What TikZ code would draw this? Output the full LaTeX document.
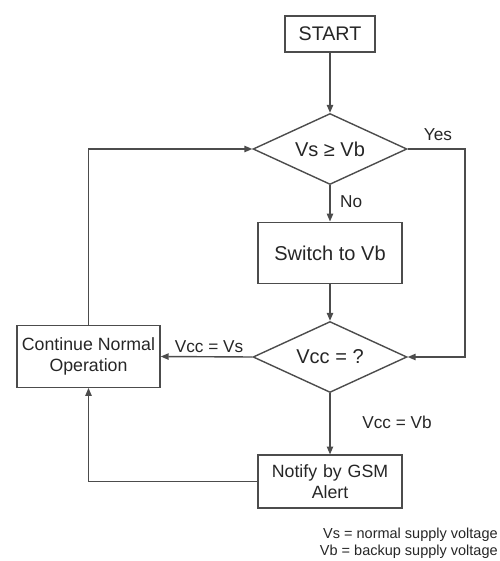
\documentclass[tikz,border=0pt]{standalone}
\usepackage{fontspec}
\setmainfont{Liberation Sans}
\usetikzlibrary{arrows.meta,shapes.geometric}
\tikzset{
	flowbox/.style={draw=black!70, line width=0.8pt, text=black!85, minimum width=82pt, minimum height=35pt, inner sep=2pt, align=center, font=\fontsize{10.1}{12}\selectfont},
	decide/.style={diamond, aspect=2.2, draw=black!70, line width=0.8pt, text=black!85, minimum width=87.6pt, minimum height=40.4pt, inner sep=0pt, font=\fontsize{11.4}{13}\selectfont},
	flow/.style={draw=black!70, line width=0.8pt, -{Triangle[length=4.5pt,width=3.6pt]}},
	lbl/.style={text=black!85, font=\fontsize{9.8}{12}\selectfont}
}
\begin{document}
\begin{tikzpicture}[x=0.02cm,y=-0.02cm]
						\useasboundingbox (0,0) rectangle (500,561);
						
						\node[flowbox, minimum width=51pt, minimum height=20.5pt, font=\fontsize{11.2}{13}\selectfont] (start) at (330,34) {START};
						\node[decide] (vsvb) at (330,149) {Vs ≥ Vb};
						\node[flowbox, font=\fontsize{11.4}{13}\selectfont] (switch) at (330,253) {Switch to Vb};
						\node[decide] (vcc) at (330,357) {Vcc = ?};
						\node[flowbox, minimum width=81.4pt] (cont) at (88.5,356.5) {Continue Normal\\Operation};
						\node[flowbox, minimum height=30pt, text width=76pt] (gsm) at (330,481.5) {Notify by GSM\\Alert};
						
						\coordinate (yescorner) at (465,149);
						
						\draw[flow] (start) -- (vsvb);
						\draw[flow] (vsvb) -- node[lbl, right=2pt, pos=0.45] (no) {No} (switch);
						\draw[flow] (vsvb.east) -- (yescorner) |- (vcc.east);
						\draw[flow] (switch) -- (vcc);
						\draw[flow] (vcc.west) -- (cont.east);
						\draw[flow] (vcc) -- (gsm);
						\draw[flow] (cont.north) |- (vsvb.west);
						\draw[flow] (gsm.west) -| (cont.south);
						
						\node[lbl] (yes) at (438,135) {Yes};
						\node[lbl] (eqvs) at (209,347) {Vcc = Vs};
						\node[lbl] (eqvb) at (397,422) {Vcc = Vb};
						\node[text=black!85, anchor=north east, align=right, inner sep=0pt, font=\fontsize{8.25}{9.6}\selectfont] (legend) at (498,528) {Vs = normal supply voltage\\Vb = backup supply voltage};
						
					\end{tikzpicture}
\end{document}
